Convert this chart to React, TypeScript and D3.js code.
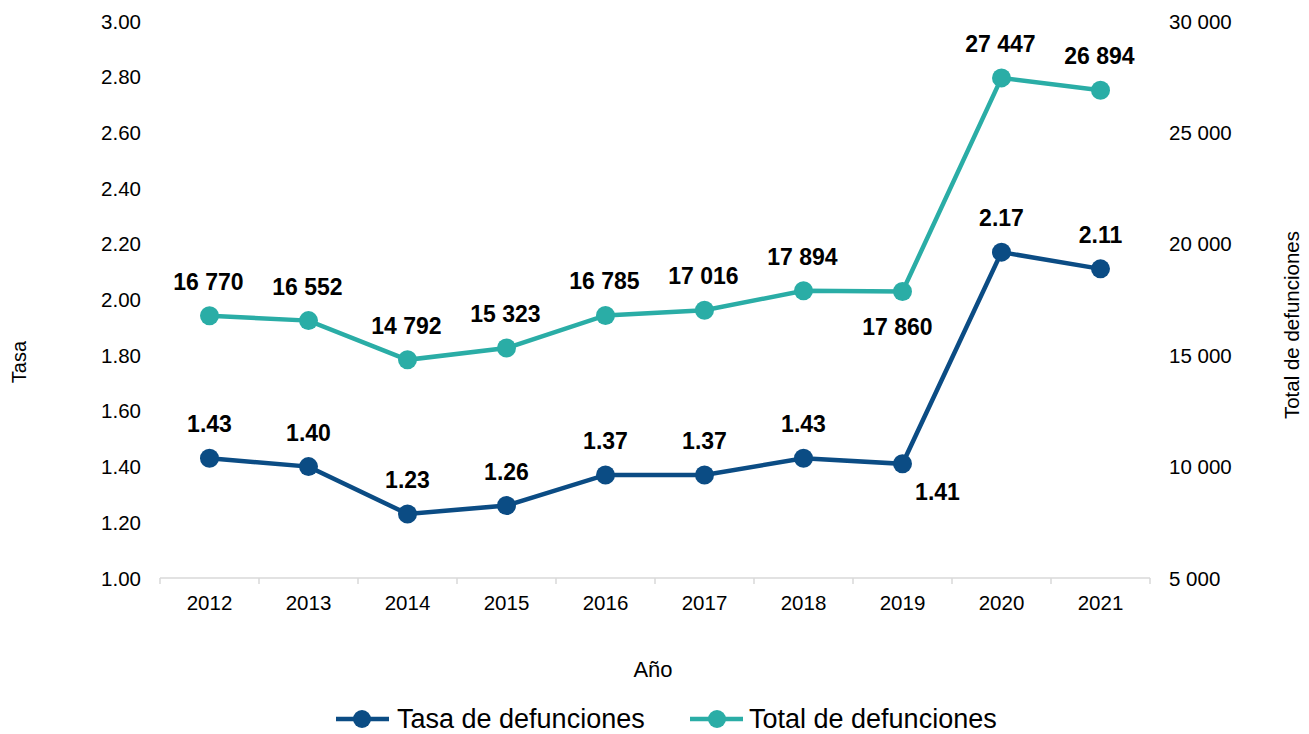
import React from "react";
import * as d3 from "d3";

const years = ["2012", "2013", "2014", "2015", "2016", "2017", "2018", "2019", "2020", "2021"];
const tasa = [1.43, 1.40, 1.23, 1.26, 1.37, 1.37, 1.43, 1.41, 2.17, 2.11];
const total = [16770, 16552, 14792, 15323, 16785, 17016, 17894, 17860, 27447, 26894];
const leftTicks = [1.0, 1.2, 1.4, 1.6, 1.8, 2.0, 2.2, 2.4, 2.6, 2.8, 3.0];
const rightTicks = [5000, 10000, 15000, 20000, 25000, 30000];

const W = 1309, H = 734;
const BLUE = "#0B4C84";
const TEAL = "#2AADA6";
const FONT = "'Liberation Sans', Arial, sans-serif";

const fmtThousands = (v: number) => {
  const s = Math.round(v).toString();
  return s.replace(/\B(?=(\d{3})+(?!\d))/g, " ");
};

export default function App() {
  const x = d3.scaleBand<string>().domain(years).range([160, 1150]);
  const yL = d3.scaleLinear().domain([1, 3]).range([578, 21]);
  const yR = d3.scaleLinear().domain([5000, 30000]).range([578, 21]);
  const cx = (y: string) => (x(y) as number) + x.bandwidth() / 2;

  const lineL = d3.line<number>().x((_, i) => cx(years[i])).y((d) => yL(d));
  const lineR = d3.line<number>().x((_, i) => cx(years[i])).y((d) => yR(d));

  const boundaries = [...years.map((y) => x(y) as number), 1150];

  return (
    <svg width={W} height={H} style={{ position: "absolute", left: 0, top: 0, fontFamily: FONT }}>
      <rect width={W} height={H} fill="#fff" />
      {/* x axis */}
      <line x1={160} x2={1150} y1={578} y2={578} stroke="#d9d9d9" strokeWidth={1.5} />
      {boundaries.map((b, i) => (
        <line key={i} x1={b} x2={b} y1={578} y2={584} stroke="#d9d9d9" strokeWidth={1.5} />
      ))}
      {years.map((y) => (
        <text key={y} x={cx(y)} y={610} textAnchor="middle" fontSize={20.5} fill="#000">{y}</text>
      ))}
      {/* left ticks */}
      {leftTicks.map((t) => (
        <text key={t} x={141} y={yL(t) + 7.5} textAnchor="end" fontSize={20.5} fill="#000">{t.toFixed(2)}</text>
      ))}
      {/* right ticks */}
      {rightTicks.map((t) => (
        <text key={t} x={1169} y={yR(t) + 7.5} textAnchor="start" fontSize={20.5} fill="#000">{fmtThousands(t)}</text>
      ))}
      {/* axis titles */}
      <text transform="translate(26,362) rotate(-90)" textAnchor="middle" fontSize={20}>Tasa</text>
      <text transform="translate(1299,325) rotate(-90)" textAnchor="middle" fontSize={20.5}>Total de defunciones</text>
      <text x={653} y={677} textAnchor="middle" fontSize={22}>Año</text>

      {/* lines */}
      <path d={lineR(total) || ""} fill="none" stroke={TEAL} strokeWidth={4.5} />
      <path d={lineL(tasa) || ""} fill="none" stroke={BLUE} strokeWidth={4.5} />
      {total.map((v, i) => (
        <circle key={"t" + i} cx={cx(years[i])} cy={yR(v)} r={9.5} fill={TEAL} />
      ))}
      {tasa.map((v, i) => (
        <circle key={"b" + i} cx={cx(years[i])} cy={yL(v)} r={9.5} fill={BLUE} />
      ))}

      {/* data labels */}
      {total.map((v, i) => {
        const below = years[i] === "2019";
        return (
          <text key={"lt" + i} x={cx(years[i]) + (below ? -5 : -1)} y={yR(v) + (below ? 44 : -26)}
            textAnchor="middle" fontSize={23} fontWeight="bold" fill="#000">{fmtThousands(v)}</text>
        );
      })}
      {tasa.map((v, i) => {
        const below = years[i] === "2019";
        return (
          <text key={"lb" + i} x={cx(years[i]) + (below ? 35 : 0)} y={yL(v) + (below ? 36 : -26)}
            textAnchor="middle" fontSize={23} fontWeight="bold" fill="#000">{v.toFixed(2)}</text>
        );
      })}

      {/* legend */}
      <line x1={336} x2={389} y1={719} y2={719} stroke={BLUE} strokeWidth={4.5} />
      <circle cx={362} cy={719} r={9} fill={BLUE} />
      <text x={397} y={728} fontSize={27}>Tasa de defunciones</text>
      <line x1={690} x2={743} y1={719} y2={719} stroke={TEAL} strokeWidth={4.5} />
      <circle cx={717} cy={719} r={9} fill={TEAL} />
      <text x={749} y={728} fontSize={27}>Total de defunciones</text>
    </svg>
  );
}
